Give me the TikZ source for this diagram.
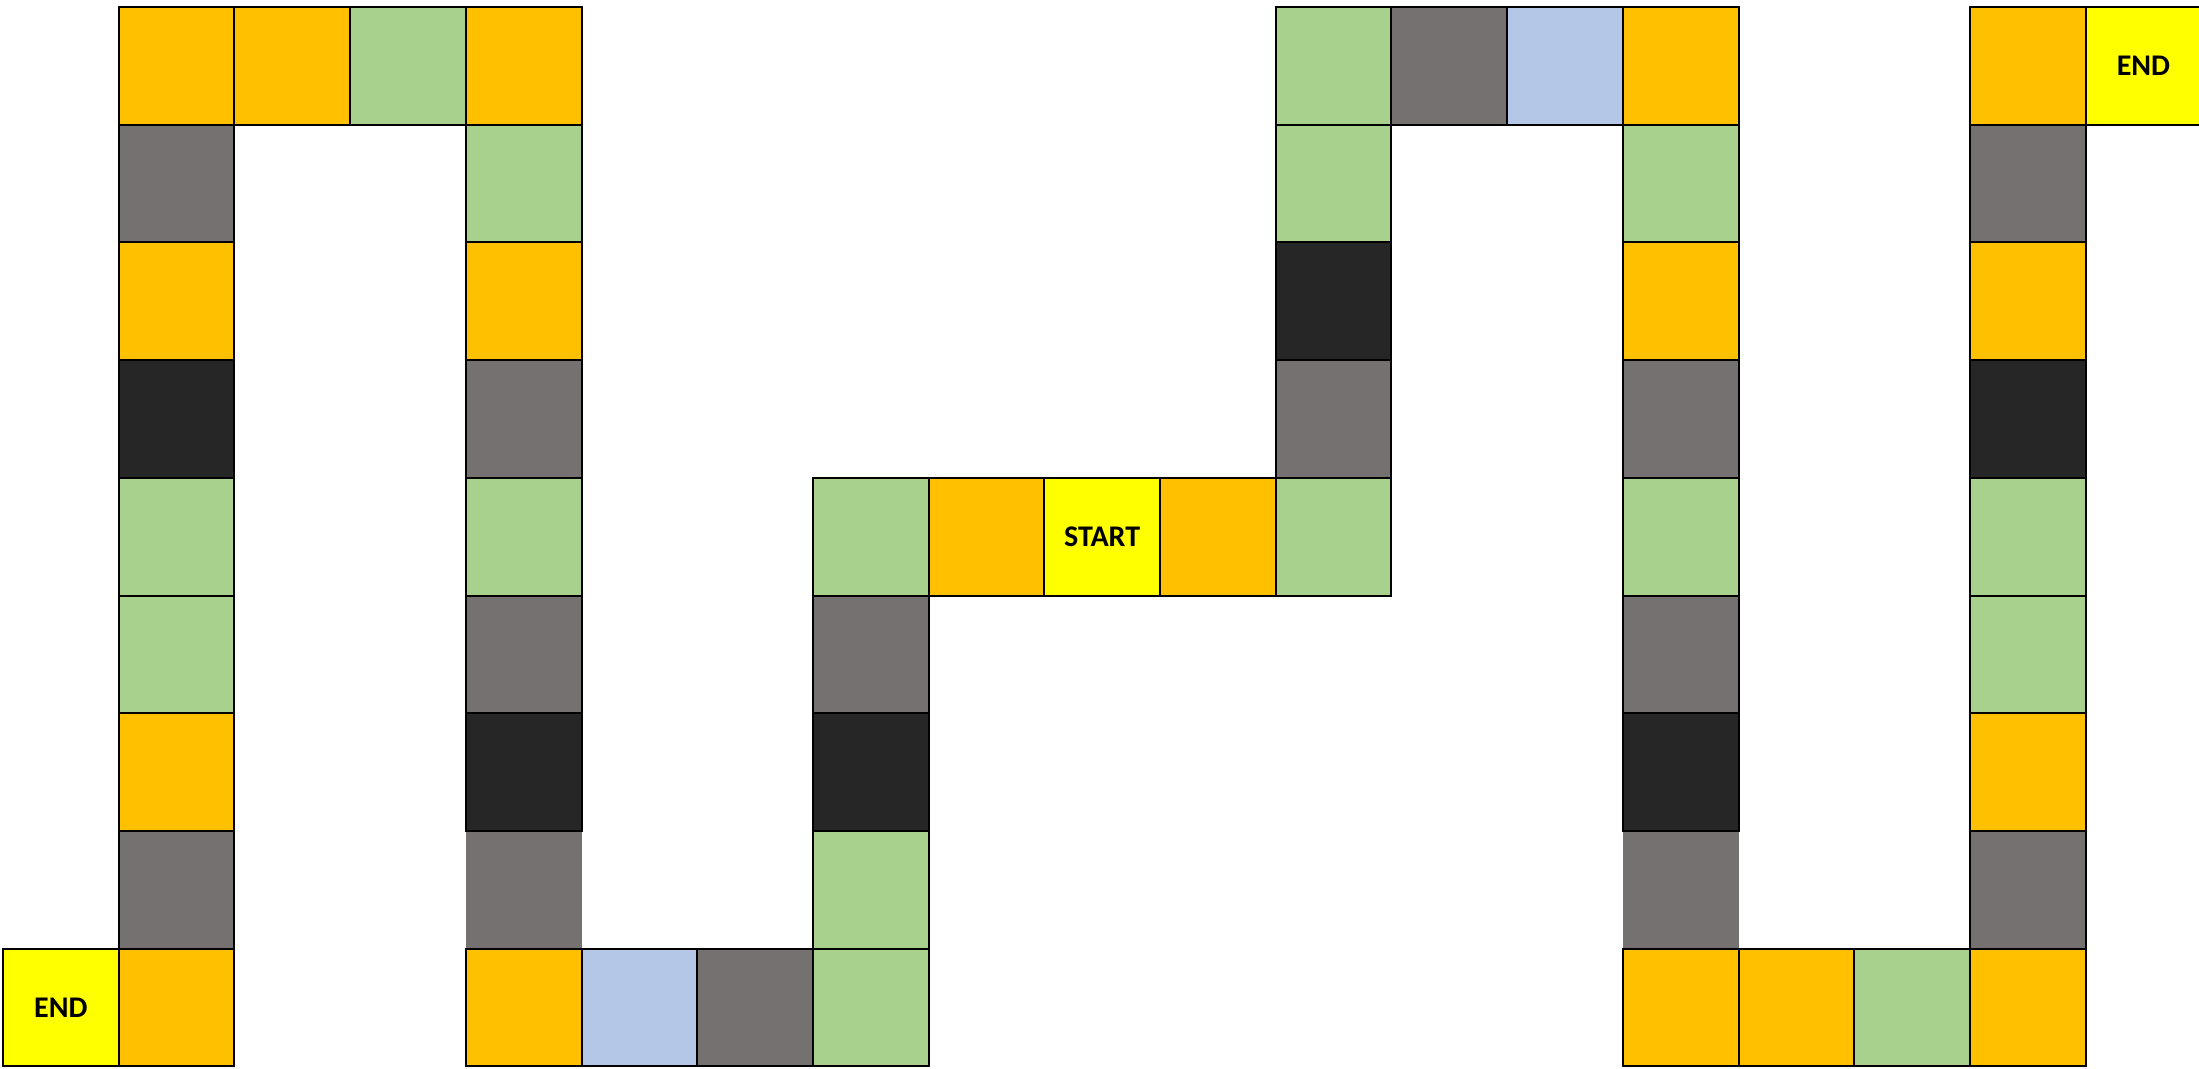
\documentclass[tikz,border=0pt]{standalone}
\usepackage{fontspec}
\setmainfont{Carlito}
\definecolor{cOr}{HTML}{FFC000}
\definecolor{cGr}{HTML}{A9D18E}
\definecolor{cGy}{HTML}{767171}
\definecolor{cBk}{HTML}{262626}
\definecolor{cBl}{HTML}{B4C7E7}
\definecolor{cYe}{HTML}{FFFF00}
\tikzset{
  sq/.style={minimum width=115.7pt, minimum height=117.7pt, inner sep=0pt, outer sep=0pt, draw=black, line width=2pt},
  sqplain/.style={sq, draw=none},
  lbl/.style={font=\fontsize{30}{34}\selectfont\bfseries, text=black}
}
\begin{document}
\begin{tikzpicture}[x=1pt,y=-1pt]
\useasboundingbox (0,0) rectangle (2199,1068);
% unbordered cells first
\foreach \c/\r/\col in {4/7/cGy,14/7/cGy}{
  \node[sqplain, fill=\col] (c-\c-\r) at ({3+115.7*(\c+0.5)},{7+117.7*(\r+0.5)}) {};
}
\foreach \c/\r/\col in {
  1/0/cOr,2/0/cOr,3/0/cGr,4/0/cOr,
  1/1/cGy,1/2/cOr,1/3/cBk,1/4/cGr,1/5/cGr,1/6/cOr,1/7/cGy,1/8/cOr,
  4/1/cGr,4/2/cOr,4/3/cGy,4/4/cGr,4/5/cGy,4/6/cBk,4/8/cOr,
  5/8/cBl,6/8/cGy,7/8/cGr,
  7/4/cGr,7/5/cGy,7/6/cBk,7/7/cGr,
  8/4/cOr,10/4/cOr,11/4/cGr,
  11/0/cGr,11/1/cGr,11/2/cBk,11/3/cGy,
  12/0/cGy,13/0/cBl,14/0/cOr,
  14/1/cGr,14/2/cOr,14/3/cGy,14/4/cGr,14/5/cGy,14/6/cBk,14/8/cOr,
  15/8/cOr,16/8/cGr,17/8/cOr,
  17/0/cOr,17/1/cGy,17/2/cOr,17/3/cBk,17/4/cGr,17/5/cGr,17/6/cOr,17/7/cGy}{
  \node[sq, fill=\col] (c-\c-\r) at ({3+115.7*(\c+0.5)},{7+117.7*(\r+0.5)}) {};
}
\node[sq, fill=cYe, lbl] (start) at ({3+115.7*9.5},{7+117.7*4.5}) {START};
\node[sq, fill=cYe, lbl] (endL) at ({3+115.7*0.5},{7+117.7*8.5}) {END};
\node[sq, fill=cYe, lbl] (endR) at ({3+115.7*18.5},{7+117.7*0.5}) {END};
\end{tikzpicture}
\end{document}
